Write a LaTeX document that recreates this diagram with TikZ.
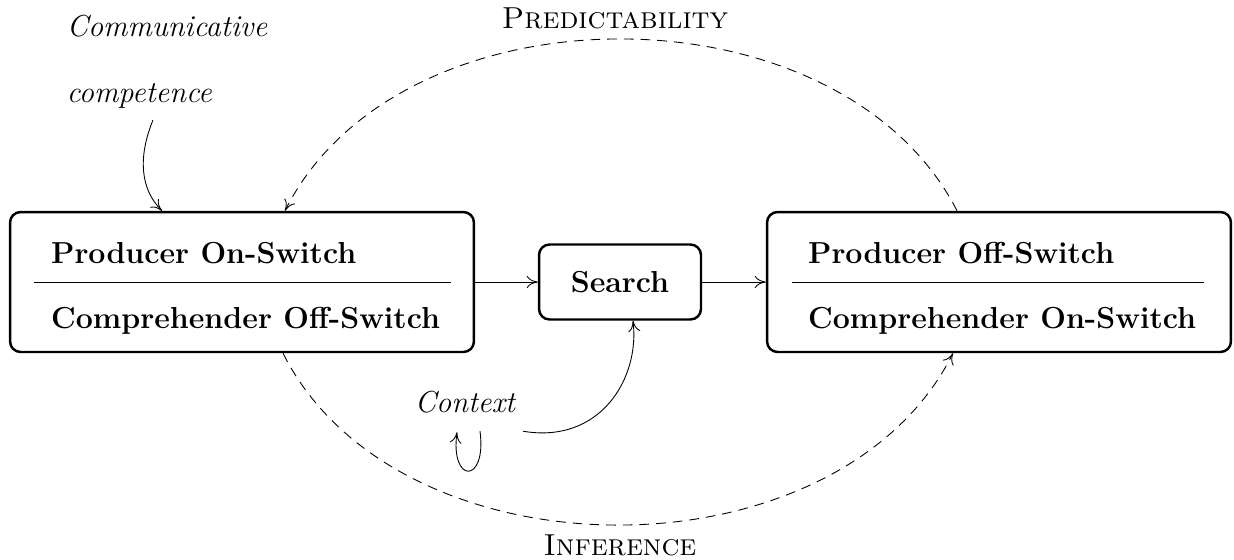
\documentclass[tikz,border=0pt]{standalone}
\usepackage{tikz}
\usetikzlibrary{arrows.meta, positioning, calc}

\begin{document}
\begin{tikzpicture}[
  x=0.02cm, y=-0.02cm,
  switchbox/.style={draw, line width=1.4pt, rounded corners=6pt, minimum width=9.28cm, minimum height=2.8cm},
  searchbox/.style={draw, line width=1.4pt, rounded corners=6pt, minimum width=3.24cm, minimum height=1.5cm, font=\LARGE\bfseries},
  switchtext/.style={font=\LARGE\bfseries, inner sep=0pt, anchor=base west},
  cue/.style={font=\LARGE\itshape, align=left},
  flow/.style={-{To[length=2.2mm, width=2.4mm]}, line width=0.5pt},
  loopdash/.style={flow, dashed, dash pattern=on 5.5pt off 4pt},
]
  \useasboundingbox (0,0) rectangle (1234,559);

  % the three boxes
  \node[switchbox] (prod) at (242, 282) {};
  \node[searchbox] (search) at (620, 282) {Search};
  \node[switchbox] (comp) at (999, 282) {};

  \node[switchtext] (prodon) at ([xshift=0.84cm, yshift=0.38cm]prod.west) {Producer On-Switch};
  \node[switchtext] (compoff) at ([xshift=0.84cm, yshift=-0.92cm]prod.west) {Comprehender Off-Switch};
  \draw[line width=0.5pt] ([xshift=0.5cm]prod.west) -- ([xshift=-0.48cm]prod.east);

  \node[switchtext] (prodoff) at ([xshift=0.84cm, yshift=0.38cm]comp.west) {Producer Off-Switch};
  \node[switchtext] (compon) at ([xshift=0.84cm, yshift=-0.92cm]comp.west) {Comprehender On-Switch};
  \draw[line width=0.5pt] ([xshift=0.52cm]comp.west) -- ([xshift=-0.56cm]comp.east);

  \draw[flow] (prod) -- (search);
  \draw[flow] (search) -- (comp);

  % labels round the boxes
  \node[cue] (comm) at (167, 62) {Communicative\\[0.55cm]competence};
  \node[cue] (ctx) at (465, 402) {Context};
  \node[font=\LARGE\scshape] (pred) at (615, 18) {Predictability};
  \node[font=\LARGE\scshape] (infer) at (620, 545) {Inference};

  \draw[flow] ([xshift=-0.28cm, yshift=-0.1cm]comm.south) .. controls +(-15,37) and +(-22,-22) .. ([xshift=-1.6cm]prod.north);
  \draw[flow] ([xshift=1.16cm, yshift=-0.24cm]ctx.south) .. controls +(77,13) and +(7,58) .. ([xshift=0.26cm]search.south);
  \draw[flow] ([xshift=0.3cm, yshift=-0.24cm]ctx.south) .. controls +(7,53) and +(-7,52) .. ([xshift=-0.16cm, yshift=-0.26cm]ctx.south);

  \draw[loopdash] ([xshift=-0.84cm]comp.north) .. controls +(-117,-229) and +(115,-229) .. ([xshift=0.86cm]prod.north);
  \draw[loopdash] ([xshift=0.82cm]prod.south) .. controls +(115,229) and +(-115,229) .. ([xshift=-0.92cm]comp.south);
\end{tikzpicture}
\end{document}
